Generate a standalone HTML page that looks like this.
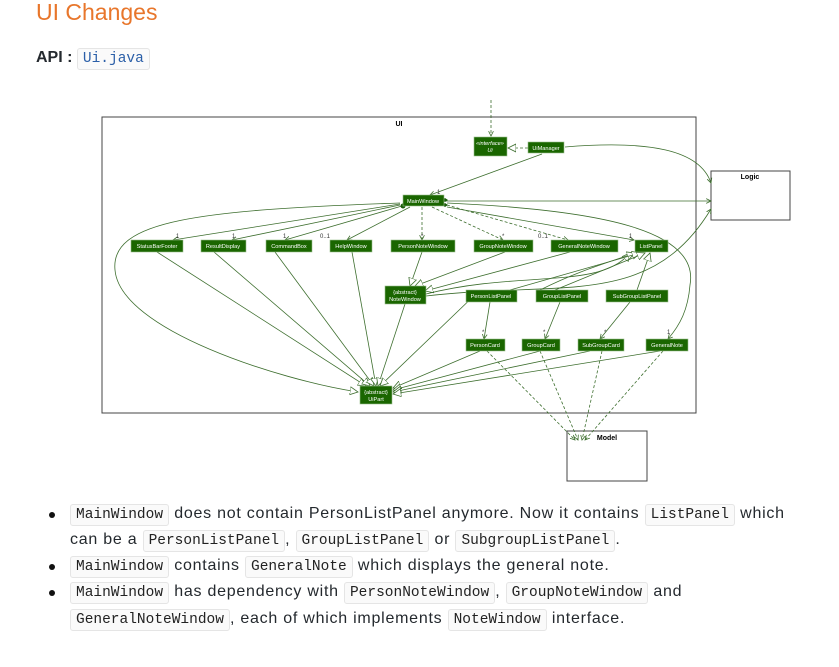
<!DOCTYPE html>
<html><head><meta charset="utf-8"><style>
body{margin:0;width:839px;height:667px;background:#fff;font-family:"Liberation Sans",sans-serif;position:relative;overflow:hidden;color:#24292e}
.t{position:absolute;left:36px;top:-1px;font-size:23px;color:#e8762b}
.api{position:absolute;left:36px;top:49px;font-size:16px;font-weight:bold}
code{font-family:"Liberation Mono",monospace;font-size:14.5px;background:#fafafa;border:1px solid #e5e5e5;border-radius:3px;padding:2px 5px;font-weight:normal;color:#222;letter-spacing:0}
.api code{color:#2b5fa8}
.l{position:absolute;left:70px;font-size:16px;white-space:nowrap;letter-spacing:0.75px}
.b{position:absolute;left:49px;width:6px;height:6px;border-radius:3px;background:#111}
svg{position:absolute;left:0;top:0}
</style></head><body>
<div class="t">UI Changes</div>
<div class="api">API : <code>Ui.java</code></div>
<svg width="839" height="667" font-family="Liberation Sans,sans-serif">
<defs>
<marker id="a" markerWidth="8" markerHeight="8" refX="6" refY="4" orient="auto"><path d="M0,1 L6,4 L0,7" fill="none" stroke="#3d6e2e" stroke-width="1"/></marker>
<marker id="h" markerWidth="12" markerHeight="12" refX="10" refY="6" orient="auto"><path d="M0,1 L10,6 L0,11 Z" fill="#fff" stroke="#3d6e2e" stroke-width="1"/></marker>
</defs>
<rect x="102" y="117" width="594" height="296" fill="none" stroke="#444" stroke-width="1"/>
<text x="399" y="126" font-size="7" font-weight="bold" text-anchor="middle">UI</text>
<rect x="711" y="171" width="79" height="49" fill="#fff" stroke="#444"/>
<text x="750" y="179" font-size="7" font-weight="bold" text-anchor="middle">Logic</text>
<rect x="567" y="431" width="80" height="50" fill="#fff" stroke="#444"/>
<text x="607" y="440" font-size="7" font-weight="bold" text-anchor="middle">Model</text>
<g fill="none" stroke="#3d6e2e" stroke-width="0.8">
<path d="M491,100 V136" stroke-dasharray="3,2" marker-end="url(#a)"/>
<path d="M528,148 H508" stroke-dasharray="3,2" marker-end="url(#h)"/>
<path d="M565,147 C650,140 700,150 711,183" marker-end="url(#a)"/>
<path d="M542,154 L430,195" marker-end="url(#a)"/>
<path d="M446,201 H711" marker-end="url(#a)"/>
<path d="M400,204 L173,240" marker-end="url(#a)"/>
<path d="M400,205 L232,240" marker-end="url(#a)"/>
<path d="M402,206 L285,240" marker-end="url(#a)"/>
<path d="M410,207 L347,240" marker-end="url(#a)"/>
<path d="M422,207 L422,240" stroke-dasharray="3,2" marker-end="url(#a)"/>
<path d="M432,207 L503,240" stroke-dasharray="3,2" marker-end="url(#a)"/>
<path d="M447,205 L568,240" stroke-dasharray="3,2" marker-end="url(#a)"/>
<path d="M447,207 L634,240" marker-end="url(#a)"/>
<path d="M400,203 C200,210 110,220 115,270 C120,330 280,380 358,392" marker-end="url(#h)"/>
<path d="M447,203 C600,210 700,230 690,285 C688,310 680,325 668,339" marker-end="url(#a)"/>
<path d="M157,252 L366,386" marker-end="url(#h)"/>
<path d="M214,252 L370,386" marker-end="url(#h)"/>
<path d="M275,252 L374,386" marker-end="url(#h)"/>
<path d="M352,252 L376,386" marker-end="url(#h)"/>
<path d="M405,304 L378,386" marker-end="url(#h)"/>
<path d="M480,290 L380,386" marker-end="url(#h)"/>
<path d="M422,252 L410,286" marker-end="url(#h)"/>
<path d="M505,252 L415,286" marker-end="url(#h)"/>
<path d="M570,252 L425,291" marker-end="url(#h)"/>
<path d="M426,294 C520,270 600,290 630,253" marker-end="url(#h)"/>
<path d="M426,296 C560,280 650,310 711,209" marker-end="url(#a)"/>
<path d="M540,290 C580,270 610,262 635,253" marker-end="url(#h)"/>
<path d="M510,290 L640,253" marker-end="url(#h)"/>
<path d="M555,290 L645,253" marker-end="url(#h)"/>
<path d="M637,290 L650,253" marker-end="url(#h)"/>
<path d="M490,302 L484,339" marker-end="url(#a)"/>
<path d="M560,302 L545,339" marker-end="url(#a)"/>
<path d="M630,302 L600,339" marker-end="url(#a)"/>
<path d="M480,351 L393,388" marker-end="url(#h)"/>
<path d="M540,351 L393,390" marker-end="url(#h)"/>
<path d="M590,351 L393,392" marker-end="url(#h)"/>
<path d="M660,351 L393,394" marker-end="url(#h)"/>
<g stroke-dasharray="3,2">
<path d="M487,351 L575,440" marker-end="url(#a)"/>
<path d="M540,351 L578,440" marker-end="url(#a)"/>
<path d="M602,351 L582,440" marker-end="url(#a)"/>
<path d="M663,351 L585,440" marker-end="url(#a)"/>
</g>
</g>
<circle cx="403" cy="206" r="2.5" fill="#1a5d0a"/>
<path d="M445,198 l3,2 l-3,2 l-3,-2z M445,203 l3,2 l-3,2 l-3,-2z" fill="#1a5d0a"/>
<g font-size="6" fill="#333">
<text x="437" y="194">1</text><text x="176" y="238">1</text><text x="232" y="238">1</text><text x="283" y="238">1</text>
<text x="320" y="238">0..1</text><text x="421" y="238">*</text><text x="502" y="238">*</text><text x="538" y="238">0..1</text>
<text x="629" y="238">1</text><text x="482" y="334">*</text><text x="543" y="334">*</text><text x="604" y="334">*</text><text x="667" y="334">1</text>
</g>
<g fill="#1a6600" stroke="#9bbf8e" stroke-width="0.6">
<rect x="474" y="137" width="33" height="19"/><rect x="528" y="142" width="36" height="11"/>
<rect x="403" y="195" width="41" height="11"/>
<rect x="131" y="240" width="52" height="12"/><rect x="201" y="240" width="45" height="12"/><rect x="266" y="240" width="46" height="12"/>
<rect x="330" y="240" width="42" height="12"/><rect x="391" y="240" width="64" height="12"/><rect x="474" y="240" width="59" height="12"/>
<rect x="551" y="240" width="67" height="12"/><rect x="635" y="240" width="33" height="12"/>
<rect x="385" y="286" width="41" height="18"/>
<rect x="466" y="290" width="51" height="12"/><rect x="536" y="290" width="52" height="12"/><rect x="606" y="290" width="62" height="12"/>
<rect x="466" y="339" width="39" height="12"/><rect x="522" y="339" width="38" height="12"/><rect x="578" y="339" width="46" height="12"/><rect x="646" y="339" width="42" height="12"/>
<rect x="360" y="386" width="32" height="18"/>
</g>
<g font-size="5.6" fill="#fff" text-anchor="middle">
<text x="490" y="145" font-style="italic">«interface»</text><text x="490" y="152" font-style="italic">Ui</text>
<text x="546" y="150">UiManager</text><text x="423" y="203">MainWindow</text>
<text x="157" y="248">StatusBarFooter</text><text x="223" y="248">ResultDisplay</text><text x="289" y="248">CommandBox</text>
<text x="351" y="248">HelpWindow</text><text x="423" y="248">PersonNoteWindow</text><text x="503" y="248">GroupNoteWindow</text>
<text x="584" y="248">GeneralNoteWindow</text><text x="651" y="248">ListPanel</text>
<text x="405" y="294">{abstract}</text><text x="405" y="301">NoteWindow</text>
<text x="491" y="298">PersonListPanel</text><text x="562" y="298">GroupListPanel</text><text x="637" y="298">SubGroupListPanel</text>
<text x="485" y="347">PersonCard</text><text x="541" y="347">GroupCard</text><text x="601" y="347">SubGroupCard</text><text x="667" y="347">GeneralNote</text>
<text x="376" y="394">{abstract}</text><text x="376" y="401">UiPart</text>
</g>
</svg>
<div class="b" style="top:512px"></div><div class="b" style="top:564px"></div><div class="b" style="top:590px"></div>
<div class="l" style="top:505px"><code>MainWindow</code> does not contain PersonListPanel anymore. Now it contains <code>ListPanel</code> which</div>
<div class="l" style="top:531px">can be a <code>PersonListPanel</code>, <code>GroupListPanel</code> or <code>SubgroupListPanel</code>.</div>
<div class="l" style="top:557px"><code>MainWindow</code> contains <code>GeneralNote</code> which displays the general note.</div>
<div class="l" style="top:583px"><code>MainWindow</code> has dependency with <code>PersonNoteWindow</code>, <code>GroupNoteWindow</code> and</div>
<div class="l" style="top:610px"><code>GeneralNoteWindow</code>, each of which implements <code>NoteWindow</code> interface.</div>
</body></html>
